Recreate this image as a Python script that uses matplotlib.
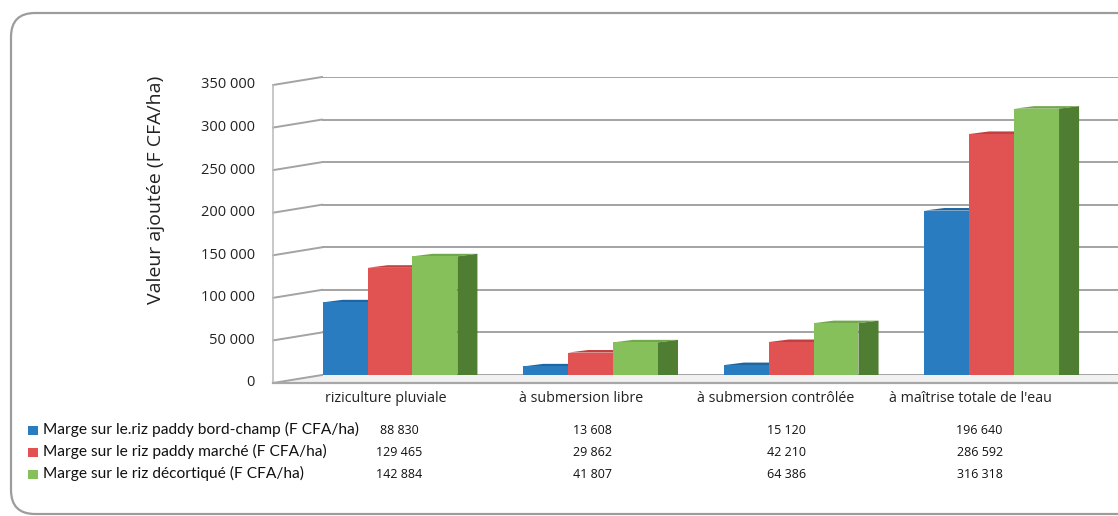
import numpy as np
import matplotlib
matplotlib.use('Agg')
import matplotlib.pyplot as plt
from matplotlib.patches import Polygon, FancyBboxPatch
from matplotlib.transforms import ScaledTranslation, blended_transform_factory

categories = ['riziculture pluviale', 'à submersion libre',
              'à submersion contrôlée', "à maîtrise totale de l'eau"]
series = ['Marge sur le.riz paddy bord-champ (F CFA/ha)',
          'Marge sur le riz paddy marché (F CFA/ha)',
          'Marge sur le riz décortiqué (F CFA/ha)']
bord_champ = [88830, 13608, 15120, 196640]
paddy_marche = [129465, 29862, 42210, 286592]
decortique = [142884, 41807, 64386, 316318]
yticks = [0, 50000, 100000, 150000, 200000, 250000, 300000, 350000]

values = [bord_champ, paddy_marche, decortique]
face = ['#2a7cc0', '#e05352', '#86c05b']
top = ['#1f669f', '#bf4040', '#72a84c']
side_col = '#4f7d31'
grid_col = '#a3a3a3'

fnt = 'Open Sans'
narrow = 'Lato'


def fmt(v):
    return '{:,}'.format(v).replace(',', ' ')


fig = plt.figure(figsize=(11.18, 5.16), dpi=100)
ax = fig.add_axes([322/1118, 1-375/516, (1118-322)/1118, (375-77)/516])
ax.set_xlim(-0.339, 3.63)
ax.set_ylim(0, 350000)
ax.axis('off')

# back wall gridlines + slanted continuation on the left wall
wall_dx = -49/796
wall_dy = -8/298
for t in yticks:
    ax.axhline(t, color=grid_col, lw=1.4, zorder=1)
    yf = t/350000
    ax.plot([wall_dx, 0], [yf+wall_dy, yf], transform=ax.transAxes,
            color=grid_col, lw=1.4, clip_on=False, zorder=1)
ax.plot([wall_dx, wall_dx], [wall_dy, 1+wall_dy], transform=ax.transAxes,
        color='#bdbdbd', lw=1.2, clip_on=False, zorder=1)
# floor
floor = Polygon([(wall_dx, wall_dy), (0, 0), (1, 0), (1, wall_dy)],
                closed=True, transform=ax.transAxes, facecolor='#f1f1f1',
                edgecolor='none', clip_on=False, zorder=0.5)
ax.add_patch(floor)
ax.plot([wall_dx, 1], [wall_dy, wall_dy], transform=ax.transAxes,
        color='#a8a8a8', lw=1.6, clip_on=False, zorder=1)

# 3d columns: top face, right side (last series only), front face
x = np.arange(len(categories))
w = 0.224
DX, DY = 0.1, 3000
shift = ax.transData + ScaledTranslation(0, -3/100, fig.dpi_scale_trans)
for k, vals in enumerate(values):
    xs = x + (k-1)*w
    for xi, h in zip(xs, vals):
        xl, xr = xi - w/2, xi + w/2
        ax.add_patch(Polygon([(xl, h), (xr, h), (xr+DX, h+DY), (xl+DX, h+DY)],
                             closed=True, facecolor=top[k], edgecolor='none',
                             transform=shift, zorder=3+2*k))
        if k == 2:
            ax.add_patch(Polygon([(xr, 0), (xr+DX, DY), (xr+DX, h+DY), (xr, h)],
                                 closed=True, facecolor=side_col, edgecolor='none',
                                 transform=shift, zorder=3+2*k))
    ax.bar(xs, vals, width=w, color=face[k], transform=shift, zorder=4+2*k)

# y tick labels on the front edge of the left wall
lab_tr = ax.get_yaxis_transform() + ScaledTranslation(-67/100, -8/100, fig.dpi_scale_trans)
for t in yticks:
    ax.text(0, t, fmt(t), transform=lab_tr, ha='right', va='center',
            fontsize=10.5, family=fnt, color='#222222')
fig.text(156/1118, 1-190/516, 'Valeur ajoutée (F CFA/ha)', rotation=90,
         ha='center', va='center', fontsize=14, family=fnt, color='#222222')

# category labels under the floor
xfig = blended_transform_factory(ax.transData, fig.transFigure)
for i, c in enumerate(categories):
    fig.text(-0.02 + 0.972*i, 1-398/516, c, transform=xfig, ha='center',
             va='center', fontsize=10.3, family=fnt, color='#222222')

# legend keys + data table
row_y = [430, 452, 474]
for k in range(3):
    yy = 1 - row_y[k]/516
    fig.patches.append(plt.Rectangle((28/1118, yy-4.5/516), 10/1118, 9/516,
                                     transform=fig.transFigure, facecolor=face[k],
                                     edgecolor='none', figure=fig))
    fig.text(43/1118, yy+1/516, series[k], ha='left', va='center', fontsize=11.2,
             family=narrow, color='#111111')
    for i, v in enumerate(values[k]):
        fig.text(0.045 + 0.965*i, yy, fmt(v), transform=xfig, ha='center',
                 va='center', fontsize=9, family=fnt, color='#111111')

# rounded outer frame
frame = FancyBboxPatch((0.11, 0.02), 11.6, 5.01,
                       boxstyle='round,pad=0,rounding_size=0.24',
                       transform=fig.dpi_scale_trans, facecolor='none',
                       edgecolor='#9c9c9c', lw=1.6)
fig.patches.append(frame)

fig.savefig('out.png', dpi=100)
